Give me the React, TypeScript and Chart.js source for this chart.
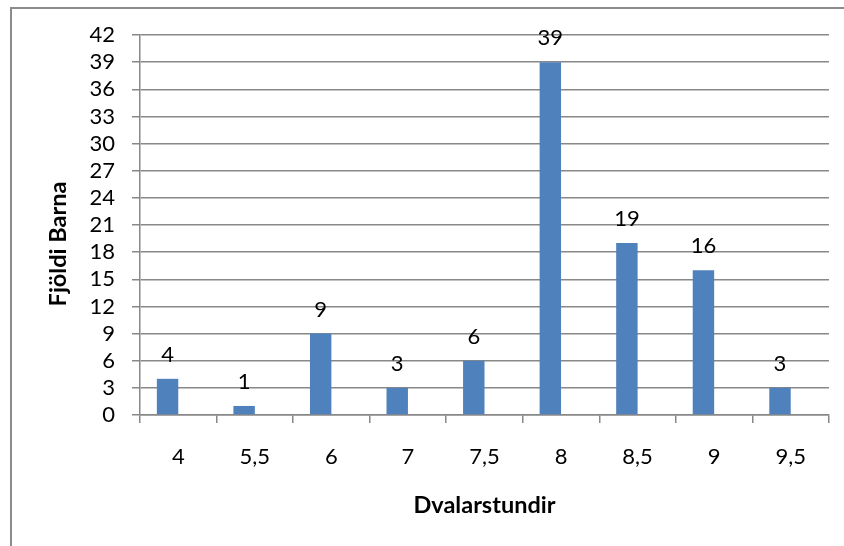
import React, { useEffect, useRef } from "react";
import { Chart, registerables } from "chart.js";

Chart.register(...registerables);

const categories = ["4", "5,5", "6", "7", "7,5", "8", "8,5", "9", "9,5"];
const counts = [4, 1, 9, 3, 6, 39, 19, 16, 3];
const emptySeries = [null, null, null, null, null, null, null, null, null];
const yMin = 0;
const yMax = 42;
const yStep = 3;
const xTitle = "Dvalarstundir";
const yTitle = "Fjöldi Barna";

const FONT = "Lato";
const GRID = "#888888";
const TICK_SIZE = 22;

const labelsPlugin = {
  id: "barLabels",
  afterDatasetsDraw(chart: any) {
    const ctx = chart.ctx;
    const meta = chart.getDatasetMeta(0);
    ctx.save();
    ctx.fillStyle = "#000";
    ctx.font = `${TICK_SIZE}px ${FONT}`;
    ctx.textAlign = "center";
    ctx.textBaseline = "middle";
    meta.data.forEach((el: any, i: number) => {
      ctx.fillText(String(counts[i]), el.x, el.y - 24);
    });
    ctx.restore();
  },
};

const titlesPlugin = {
  id: "axisTitles",
  afterDraw(chart: any) {
    const ctx = chart.ctx;
    const area = chart.chartArea;
    ctx.save();
    ctx.fillStyle = "#000";
    ctx.font = `bold 23.5px ${FONT}`;
    ctx.textAlign = "center";
    ctx.textBaseline = "middle";
    ctx.fillText(xTitle, (area.left + area.right) / 2, area.bottom + 90);
    ctx.translate(58, 244);
    ctx.rotate(-Math.PI / 2);
    ctx.fillText(yTitle, 0, 0);
    ctx.restore();
  },
};

export default function App() {
  const ref = useRef<HTMLCanvasElement | null>(null);

  useEffect(() => {
    if (!ref.current) return;
    const chart = new Chart(ref.current, {
      type: "bar",
      data: {
        labels: categories,
        datasets: [
          {
            data: counts,
            backgroundColor: "#4F81BD",
            borderWidth: 0,
            categoryPercentage: 0.56,
            barPercentage: 1,
          },
          {
            data: emptySeries as any,
            backgroundColor: "#C0504D",
            borderWidth: 0,
            categoryPercentage: 0.56,
            barPercentage: 1,
          },
        ],
      },
      options: {
        animation: false,
        responsive: false,
        devicePixelRatio: 1,
        layout: { padding: { top: 35, right: 15, left: 0, bottom: 0 } },
        plugins: {
          legend: { display: false },
          tooltip: { enabled: false },
        },
        scales: {
          x: {
            grid: {
              offset: true,
              drawOnChartArea: false,
              drawTicks: true,
              tickLength: 8,
              color: GRID,
              lineWidth: 1.5,
            },
            border: { color: GRID, width: 1.5 },
            ticks: {
              color: "#000",
              font: { family: FONT, size: TICK_SIZE },
              padding: 21,
              maxRotation: 0,
              autoSkip: false,
            },
            afterFit: (s: any) => {
              s.height = 131;
            },
          },
          y: {
            min: yMin,
            max: yMax,
            grid: {
              drawTicks: true,
              tickLength: 8,
              color: GRID,
              lineWidth: 1.5,
            },
            border: { color: GRID, width: 1.5 },
            ticks: {
              stepSize: yStep,
              autoSkip: false,
              color: "#000",
              font: { family: FONT, size: TICK_SIZE },
              padding: 17,
            },
            afterFit: (s: any) => {
              s.width = 140;
            },
          },
        },
      },
      plugins: [labelsPlugin, titlesPlugin],
    });
    return () => chart.destroy();
  }, []);

  return (
    <div
      style={{
        position: "fixed",
        left: 0,
        top: 0,
        width: 844,
        height: 546,
        overflow: "hidden",
        background: "#fff",
      }}
    >
      <div
        style={{
          position: "absolute",
          left: 10,
          top: 7,
          width: 900,
          height: 600,
          borderLeft: "2px solid #8c8c8c",
          borderTop: "2px solid #8c8c8c",
        }}
      />
      <canvas
        ref={ref}
        width={844}
        height={546}
        style={{ position: "absolute", left: 0, top: 0 }}
      />
    </div>
  );
}
